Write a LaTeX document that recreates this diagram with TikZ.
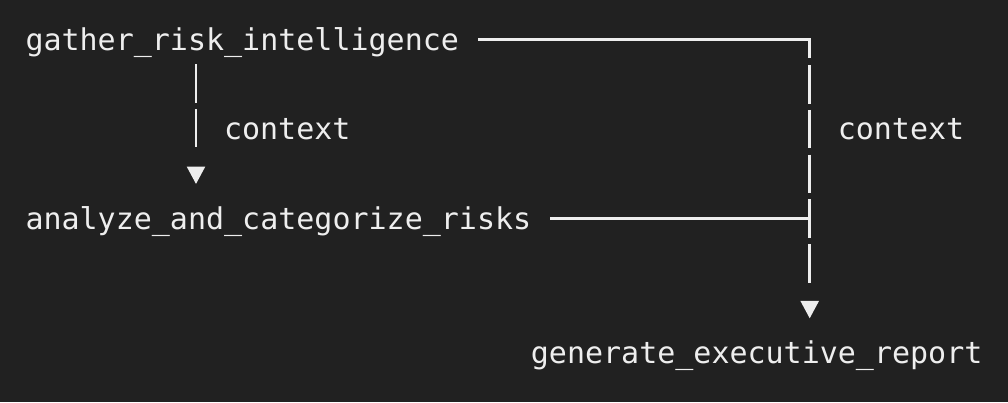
\documentclass[tikz,border=0pt]{standalone}
\usepackage{fontspec}
\newfontfamily\monofont{DejaVu Sans Mono}
\usetikzlibrary{arrows.meta}
\definecolor{bg}{HTML}{212121}
\definecolor{fg}{HTML}{EEEEEE}
\begin{document}
\begin{tikzpicture}[x=1pt,y=-1pt,
  txt/.style={text=fg, font=\monofont\fontsize{30}{36}\selectfont, inner sep=0pt, outer sep=0pt, text height=33.1pt, text depth=11.7pt, anchor=base west},
  hline/.style={draw=fg, line width=2.5pt},
  vline/.style={draw=fg, line width=2.5pt, -{Triangle[length=17.5pt,width=18pt]}},
]
\fill[bg] (0,0) rectangle (1008,402);
\useasboundingbox (0,0) rectangle (1008,402);

\node[txt] (gather) at (25.5,50.3) {gather\_risk\_intelligence};
\node[txt] (analyze) at (25.5,229.3) {analyze\_and\_categorize\_risks};
\node[txt] (report) at (530.9,363.5) {generate\_executive\_report};
\node[txt] (ctx1) at (224.05,139.5) {context};
\node[txt] (ctx2) at (837.75,139.5) {context};

\coordinate (lx) at (196,0);
\coordinate (rx) at (809.7,0);

% gather -> analyze
\draw[vline, dash pattern=on 38.4pt off 6.35pt on 38.4pt off 60pt, shorten <=2.3pt, shorten >=12.2pt]
  (gather.south -| lx) -- (analyze.north -| lx);

% gather -> report
\draw[hline, shorten <=19.05pt, shorten >=-1.25pt] (gather.east) -- (gather.east -| rx) coordinate (c1);
\draw[vline, dash pattern=on 18.5pt off 7pt on 38.4pt off 6.35pt on 38.4pt off 6.35pt on 38.4pt off 6.35pt on 38.4pt off 6.35pt on 38.4pt off 60pt, shorten >=12.05pt]
  (c1) -- (report.north -| rx);

% analyze -> report (joins the trunk)
\draw[hline, shorten <=19.05pt] (analyze.east) -- (analyze.east -| rx);
\end{tikzpicture}
\end{document}
